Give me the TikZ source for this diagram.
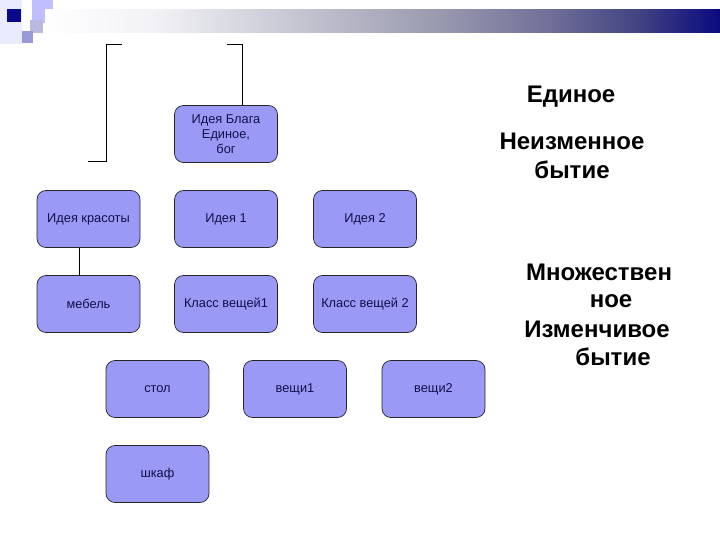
\documentclass[tikz,border=0pt]{standalone}
\usepackage{fontspec}
\setmainfont{Liberation Sans}
\definecolor{boxfill}{HTML}{9A9AF6}
\definecolor{boxtext}{HTML}{10104A}
\definecolor{navy}{HTML}{0A0A80}
\definecolor{g1}{HTML}{F2F2F6}
\definecolor{g2}{HTML}{C8C8D4}
\definecolor{g3}{HTML}{9A9AB0}
\definecolor{g4}{HTML}{72729A}
\definecolor{g5}{HTML}{424282}
\pgfdeclarehorizontalshading{barshade}{100bp}{
  color(0bp)=(white); color(25bp)=(white); color(33bp)=(g1);
  color(43bp)=(g2); color(54bp)=(g3); color(62bp)=(g4);
  color(69bp)=(g5); color(75bp)=(navy); color(100bp)=(navy)}
\tikzset{
  bx/.style={draw=black!85, line width=0.7pt, fill=boxfill, rounded corners=9pt,
    minimum width=103pt, minimum height=57pt, inner sep=0pt, text=boxtext,
    font=\fontsize{12.8}{15}\selectfont, align=center},
  big/.style={font=\bfseries\fontsize{24}{28}\selectfont, text=black, inner sep=0pt},
  ln/.style={draw=black, line width=0.9pt}
}
\begin{document}
\begin{tikzpicture}[x=1pt,y=-1pt]
\useasboundingbox (0,0) rectangle (720,540);
% header decoration
\fill[white] (0,0) rectangle (720,540);
\fill[blue!8!white] (0,0) rectangle (22,44);
\fill[blue!25!white] (32,0) rectangle (53,23);
\fill[blue!35!gray!40!white] (30,20) rectangle (43,33);
\fill[blue!45!gray!55!white] (22,31) rectangle (33,43);
\fill[navy!90!blue] (7,9) rectangle (21,22);
\shade[shading=barshade] (45,10) rectangle (720,33);
% bracket
\coordinate (bl1) at (88,161);
\coordinate (bl2) at (106,161);
\coordinate (bl3) at (106,44);
\coordinate (bl4) at (122,44);
\coordinate (br1) at (227,44);
\coordinate (br2) at (242,44);
\draw[ln] (bl1) -- (bl2) -- (bl3) -- (bl4);
% boxes
\node[bx] (blaga) at (226,134) {Идея Блага\\Единое,\\бог};
\node[bx] (kras) at (88.5,219) {Идея красоты};
\node[bx] (idea1) at (226,219) {Идея 1};
\node[bx] (idea2) at (365,219) {Идея 2};
\node[bx] (mebel) at (88.5,304) {мебель};
\node[bx] (klass1) at (226,304) {Класс вещей1};
\node[bx] (klass2) at (365,304) {Класс вещей 2};
\node[bx] (stol) at (157.5,389) {стол};
\node[bx] (veschi1) at (295,389) {вещи1};
\node[bx] (veschi2) at (433.5,389) {вещи2};
\node[bx] (shkaf) at (157.5,474) {шкаф};
\draw[ln] (br1) -- (br2) -- (br2 |- blaga.north);
\draw[ln] ([xshift=-9.5pt]kras.south) -- ([xshift=-9.5pt]mebel.north);
% right texts
\node[big] (t1) at (571,97) {Единое};
\node[big] (t2) at (572,141) {Неизменное};
\node[big] (t3) at (572,170) {бытие};
\node[big] (t4) at (599,272) {Множествен};
\node[big] (t5) at (611,301) {ное};
\node[big] (t6) at (597,329) {Изменчивое};
\node[big] (t7) at (613,357) {бытие};
\end{tikzpicture}
\end{document}
